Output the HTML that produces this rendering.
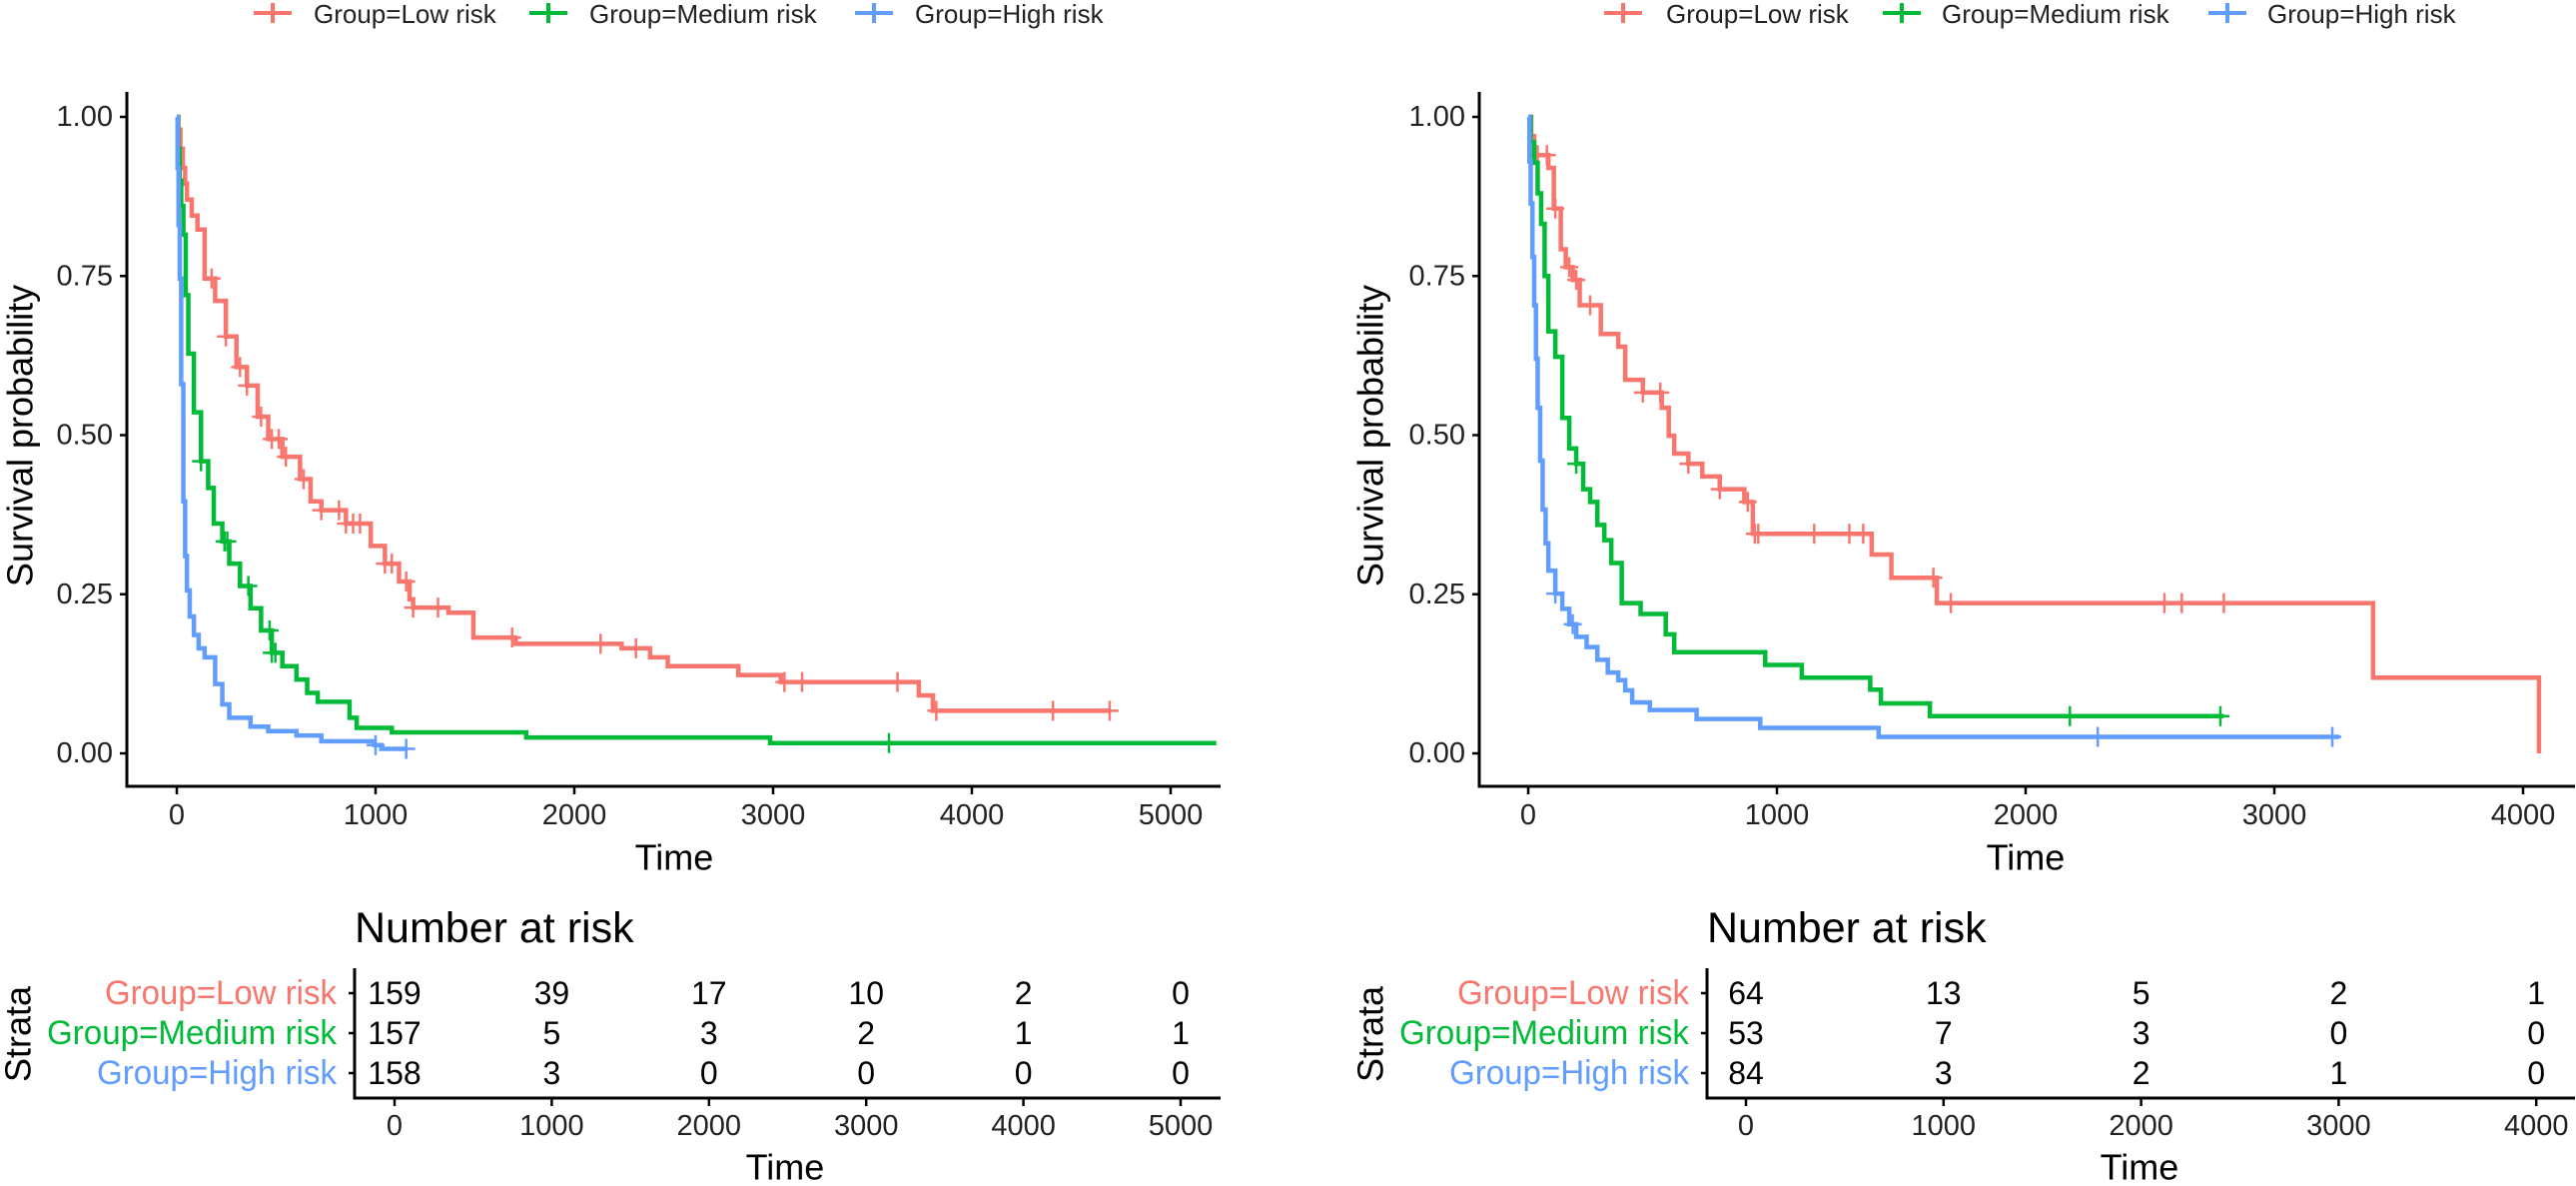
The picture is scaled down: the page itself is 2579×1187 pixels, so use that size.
<!DOCTYPE html>
<html><head><meta charset="utf-8"><style>
html,body{margin:0;padding:0;background:#fff;}
svg{display:block;font-family:"Liberation Sans",Arial,sans-serif;}
</style></head><body>
<svg id="fig" width="2579" height="1187" viewBox="0 0 2579 1187" xmlns="http://www.w3.org/2000/svg"></svg>
<script>
// ---------- DATA ----------
const groups = ["Group=Low risk","Group=Medium risk","Group=High risk"];
const L_low_t = [8,18,30,42,51,75,104,140,193,247,300,353,407,460,531,620,673,727,851,976,1047,1118,1171,1189,1367,1492,1705,2238,2381,2470,2825,3039,3733,3804];
const L_low_s = [0.98,0.95,0.92,0.895,0.87,0.845,0.823,0.746,0.711,0.655,0.607,0.578,0.529,0.494,0.466,0.431,0.396,0.382,0.361,0.326,0.298,0.270,0.242,0.229,0.221,0.182,0.172,0.165,0.151,0.137,0.123,0.112,0.091,0.067];
const L_low_cens = [175,247,318,353,424,478,513,549,638,727,816,851,887,922,1047,1082,1154,1189,1314,1687,2132,2310,3057,3146,3626,3821,4408,4693];
const L_low_end = 4700;
const L_med_t = [6,14,22,33,45,58,86,122,158,186,229,264,318,371,424,478,531,602,656,709,869,905,1082,1758,2985];
const L_med_s = [0.95,0.9,0.86,0.815,0.72,0.628,0.536,0.459,0.417,0.361,0.333,0.298,0.263,0.228,0.193,0.158,0.137,0.116,0.095,0.081,0.056,0.040,0.033,0.025,0.016];
const L_med_cens = [122,240,254,360,467,478,496,3583];
const L_med_end = 5230;
const L_high_t = [4,9,15,22,33,42,51,65,86,110,140,193,229,264,371,460,602,727,994,1029];
const L_high_s = [0.92,0.83,0.746,0.58,0.396,0.31,0.256,0.215,0.186,0.165,0.151,0.109,0.077,0.056,0.042,0.035,0.028,0.019,0.013,0.007];
const L_high_cens = [1000,1154];
const L_high_end = 1160;
const R_low_t = [12,24,81,103,131,151,179,207,292,362,390,461,537,565,587,644,700,770,869,903,1381,1460,1643,3397,4064];
const R_low_s = [0.97,0.94,0.92,0.856,0.792,0.764,0.744,0.704,0.659,0.639,0.587,0.567,0.543,0.499,0.471,0.455,0.435,0.415,0.395,0.345,0.3125,0.276,0.236,0.119,0.0];
const R_low_cens = [38,75,109,165,193,249,461,531,644,770,883,911,925,1150,1291,1347,1629,1699,2558,2628,2797];
const R_low_end = 4064;
const R_med_t = [10,24,38,52,66,81,109,137,165,193,221,249,278,306,334,376,452,553,587,953,1100,1375,1418,1615];
const R_med_s = [0.96,0.928,0.88,0.832,0.75,0.663,0.623,0.527,0.479,0.455,0.415,0.395,0.359,0.335,0.299,0.236,0.219,0.187,0.159,0.139,0.119,0.100,0.0785,0.0585];
const R_med_cens = [193,2178,2783];
const R_med_end = 2797;
const R_high_t = [5,10,17,24,31,38,48,58,70,81,109,137,165,193,235,278,320,362,390,418,489,677,933,1409];
const R_high_s = [0.93,0.864,0.78,0.704,0.62,0.543,0.46,0.383,0.33,0.287,0.251,0.227,0.203,0.183,0.167,0.147,0.127,0.115,0.099,0.080,0.068,0.054,0.040,0.026];
const R_high_cens = [109,179,2290,3233];
const R_high_end = 3262;
const L_risk_times = [0,1000,2000,3000,4000,5000];
const L_risk_low = [159,39,17,10,2,0];
const L_risk_med = [157,5,3,2,1,1];
const L_risk_high = [158,3,0,0,0,0];
const R_risk_times = [0,1000,2000,3000,4000];
const R_risk_low = [64,13,5,2,1];
const R_risk_med = [53,7,3,0,0];
const R_risk_high = [84,3,2,1,0];
const yTicks = [0,0.25,0.5,0.75,1];
const yTickLabels = ["0.00","0.25","0.50","0.75","1.00"];

const colors = ["#F8766D","#00BA38","#619CFF"];
const labelWidths = [232,290,240];
const svg = document.getElementById('fig');
const NS = "http://www.w3.org/2000/svg";
function mk(tag, attrs, parent){const e=document.createElementNS(NS,tag);for(const k in attrs)e.setAttribute(k,attrs[k]);(parent||svg).appendChild(e);return e;}
function txt(x,y,s,size,anchor,fill,parent,rot){const e=mk('text',{x:x,y:y,'font-size':size,'text-anchor':anchor||'middle','dominant-baseline':'central',fill:fill||'#000'},parent);if(rot)e.setAttribute('transform','rotate(-90 '+x+' '+y+')');e.textContent=s;return e;}

function stepAt(ts,ss,t){let s=1;for(let i=0;i<ts.length;i++){if(ts[i]<=t)s=ss[i];else break;}return s;}

function panel(o){
  const g=mk('g',{});
  
  
  const X=t=>o.x0+t*o.kx, Y=s=>754-s*637;
  const ax=mk('path',{d:`M${o.axX},92 V787 H${o.axEnd}`,stroke:'#000','stroke-width':3,fill:'none'},g);
  
  yTicks.forEach((v,i)=>{
    mk('line',{x1:o.axX-7,x2:o.axX,y1:Y(v),y2:Y(v),stroke:'#000','stroke-width':2.5},g);
    const t=txt(o.axX-14,Y(v),yTickLabels[i],29,'end','#222',g);
    
  });
  o.xticks.forEach(v=>{
    mk('line',{x1:X(v),x2:X(v),y1:787,y2:795,stroke:'#000','stroke-width':2.5},g);
    const t=txt(X(v),816,String(v),29,'middle','#222',g);
    
  });
  const xt=txt(o.timeX,858,'Time',36,'middle','#000',g);
  
  const yt=txt(o.ylabX,436,'Survival probability',36,'middle','#000',g,true);
  
  o.series.forEach((sr,i)=>{
    let d=`M${X(0)},${Y(1)}`;
    sr.t.forEach((t,j)=>{d+=` H${X(t)} V${Y(sr.s[j])}`;});
    d+=` H${X(sr.end)}`;
    const p=mk('path',{d:d,stroke:colors[i],'stroke-width':4.5,fill:'none','stroke-linejoin':'miter'},g);
    
    
    sr.c.forEach(ct=>{
      const cx=X(ct),cy=Y(stepAt(sr.t,sr.s,ct));
      const m=mk('path',{d:`M${cx-9},${cy} H${cx+9} M${cx},${cy-10} V${cy+10}`,stroke:colors[i],'stroke-width':2.5,fill:'none'},g);
      
      
    });
  });
  o.legend.forEach((lg,i)=>{
    const lgG=mk('g',{},g);
    
    
    mk('path',{d:`M${lg[0]},13 H${lg[0]+38} M${lg[0]+19},3 V23`,stroke:colors[i],'stroke-width':4,fill:'none'},lgG);
    txt(lg[1],14,groups[i],26,'start','#222',lgG);
  });
  const TX=t=>o.tx0+t*o.tkx;
  const nt=txt(o.tabAx,929,'Number at risk',43,'start','#000',g);
  
  const ta=mk('path',{d:`M${o.tabAx},969 V1099 H${o.axEnd}`,stroke:'#000','stroke-width':3,fill:'none'},g);
  
  const rowsY=[994,1034,1074];
  o.risk.forEach((row,i)=>{
    mk('line',{x1:o.tabAx-6,x2:o.tabAx,y1:rowsY[i],y2:rowsY[i],stroke:'#000','stroke-width':2.5},g);
    const gl=txt(o.tabAx-18,rowsY[i],groups[i],34,'end',colors[i],g);
    gl.setAttribute('textLength',labelWidths[i]);
    gl.setAttribute('lengthAdjust','spacingAndGlyphs');
    
    row.forEach((v,j)=>{
      const c=txt(TX(o.rtimes[j]),rowsY[i],String(v),32,'middle','#000',g);
      
    });
  });
  o.rtimes.forEach(v=>{
    mk('line',{x1:TX(v),x2:TX(v),y1:1099,y2:1107,stroke:'#000','stroke-width':2.5},g);
    const t=txt(TX(v),1127,String(v),29,'middle','#222',g);
    
  });
  const tt=txt(o.tabTimeX,1168,'Time',36,'middle','#000',g);
  
  const st=txt(o.strataX,1035,'Strata',36,'middle','#000',g,true);
  
}

panel({name:'left-km-panel',x0:177,kx:0.199,axX:127,axEnd:1222,xticks:[0,1000,2000,3000,4000,5000],timeX:675,ylabX:20,
  series:[{t:L_low_t,s:L_low_s,c:L_low_cens,end:L_low_end},{t:L_med_t,s:L_med_s,c:L_med_cens,end:L_med_end},{t:L_high_t,s:L_high_s,c:L_high_cens,end:L_high_end}],
  legend:[[254,314],[530,590],[856,916]],
  tx0:395,tkx:0.1574,tabAx:355,risk:[L_risk_low,L_risk_med,L_risk_high],rtimes:L_risk_times,tabTimeX:786,strataX:18});
panel({name:'right-km-panel',x0:1530,kx:0.249,axX:1481,axEnd:2578,xticks:[0,1000,2000,3000,4000],timeX:2028,ylabX:1372,
  series:[{t:R_low_t,s:R_low_s,c:R_low_cens,end:R_low_end},{t:R_med_t,s:R_med_s,c:R_med_cens,end:R_med_end},{t:R_high_t,s:R_high_s,c:R_high_cens,end:R_high_end}],
  legend:[[1606,1668],[1885,1944],[2211,2270]],
  tx0:1748,tkx:0.1978,tabAx:1709,risk:[R_risk_low,R_risk_med,R_risk_high],rtimes:R_risk_times,tabTimeX:2142,strataX:1372});
</script>
</body></html>
